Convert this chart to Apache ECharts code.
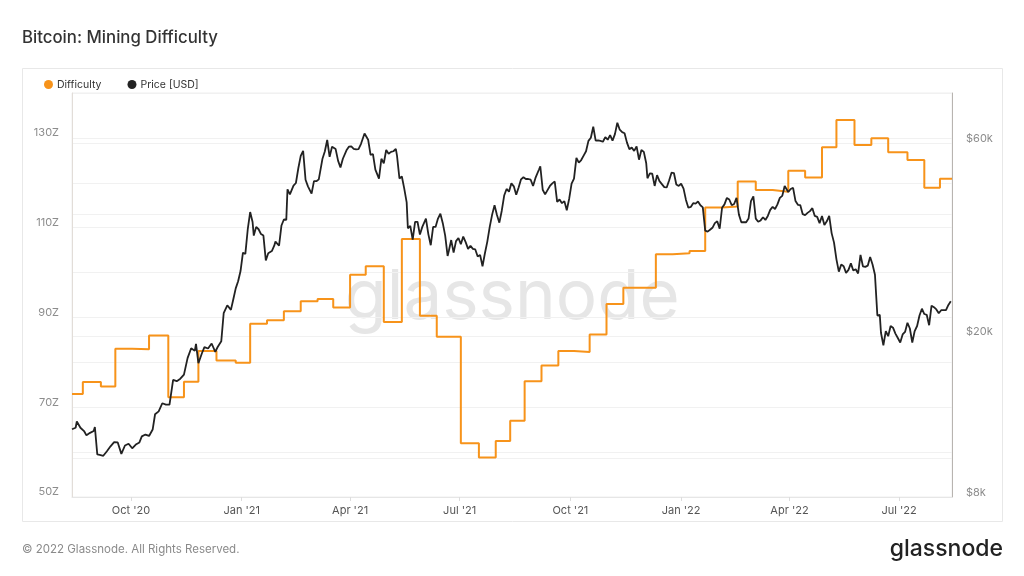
<!DOCTYPE html>
<html><head><meta charset="utf-8">
<script src="https://cdn.jsdelivr.net/npm/echarts@6/dist/echarts.min.js"></script>
<style>html,body{margin:0;padding:0;background:#fff}#c{width:1024px;height:576px}</style>
</head><body><div id="c"></div>
<script>
const xTickDates = ['2020-10-01','2021-01-01','2021-04-01','2021-07-01','2021-10-01','2022-01-01','2022-04-01','2022-07-01'];
const xTickLabels = ["Oct '20","Jan '21","Apr '21","Jul '21","Oct '21","Jan '22","Apr '22","Jul '22"];
const diffLabelValues = [50,70,90,110,130];
const priceLabelValues = [8000,20000,60000];
const priceGridValues = [10000,20000,40000,60000];

const difficulty = [
['2020-08-13',72.95],['2020-08-22',75.6],['2020-09-06',74.6],['2020-09-18',83.0],['2020-10-02',82.9],
['2020-10-16',86.0],['2020-11-01',72.2],['2020-11-14',75.7],['2020-11-26',82.5],['2020-12-11',80.4],
['2020-12-27',79.9],['2021-01-08',88.6],['2021-01-22',89.4],['2021-02-05',91.4],['2021-02-19',93.6],
['2021-03-05',94.1],['2021-03-18',92.2],['2021-04-01',99.5],['2021-04-14',101.4],['2021-04-29',89.0],
['2021-05-14',107.5],['2021-05-29',90.4],['2021-06-12',85.7],['2021-07-02',62.0],['2021-07-17',58.8],
['2021-07-31',62.5],['2021-08-12',67.0],['2021-08-24',75.8],['2021-09-07',79.3],['2021-09-21',82.5],
['2021-10-04',82.3],['2021-10-17',86.2],['2021-10-31',93.0],['2021-11-14',96.6],['2021-11-27',96.6],
['2021-12-11',104.1],['2021-12-25',104.3],['2022-01-08',104.8],['2022-01-21',114.5],['2022-02-04',114.7],
['2022-02-17',120.3],['2022-03-04',118.4],['2022-03-18',118.0],['2022-03-31',122.7],['2022-04-14',121.2],
['2022-04-28',127.9],['2022-05-10',134.0],['2022-05-25',128.4],['2022-06-08',129.9],['2022-06-22',126.8],
['2022-07-08',125.1],['2022-07-22',118.9],['2022-08-04',120.9],['2022-08-14',120.9]
];

const price = [
['2020-08-13',11770],['2020-08-16',11870],['2020-08-17',12300],['2020-08-20',11870],['2020-08-23',11650],
['2020-08-25',11370],['2020-08-28',11530],['2020-08-31',11650],['2020-09-01',11920],['2020-09-03',10200],
['2020-09-05',10170],['2020-09-08',10120],['2020-09-11',10380],['2020-09-14',10680],['2020-09-17',10940],
['2020-09-20',10920],['2020-09-23',10230],['2020-09-26',10730],['2020-09-29',10840],['2020-10-02',10560],
['2020-10-05',10790],['2020-10-08',10920],['2020-10-10',11300],['2020-10-13',11420],['2020-10-16',11330],
['2020-10-19',11750],['2020-10-21',12820],['2020-10-24',13030],['2020-10-27',13650],['2020-10-30',13550],
['2020-11-02',13550],['2020-11-05',15590],['2020-11-08',15480],['2020-11-11',15700],['2020-11-14',16070],
['2020-11-17',17650],['2020-11-20',18680],['2020-11-23',18400],['2020-11-24',19150],['2020-11-26',17150],
['2020-11-29',18180],['2020-12-01',18800],['2020-12-04',18650],['2020-12-07',19190],['2020-12-10',18300],
['2020-12-12',18810],['2020-12-15',19430],['2020-12-17',22800],['2020-12-20',23860],['2020-12-23',23240],
['2020-12-25',24700],['2020-12-27',26270],['2020-12-29',27360],['2020-12-31',29000],
['2021-01-02',32200],['2021-01-04',31970],['2021-01-06',36800],['2021-01-08',40600],['2021-01-10',38350],
['2021-01-11',35500],['2021-01-13',37300],['2021-01-15',36800],['2021-01-17',35800],['2021-01-19',35500],
['2021-01-21',30800],['2021-01-23',32100],['2021-01-26',32500],['2021-01-28',33500],['2021-01-29',34300],
['2021-02-01',33500],['2021-02-03',37600],['2021-02-05',38900],['2021-02-07',38800],['2021-02-08',46200],
['2021-02-10',44900],['2021-02-13',47200],['2021-02-15',47900],['2021-02-17',52100],['2021-02-19',55900],
['2021-02-21',57500],['2021-02-23',48800],['2021-02-25',47000],['2021-02-28',45100],['2021-03-02',48400],
['2021-03-04',48400],['2021-03-06',48900],['2021-03-09',54900],['2021-03-11',57300],['2021-03-13',61200],
['2021-03-15',55600],['2021-03-17',58900],['2021-03-20',58100],['2021-03-22',54400],['2021-03-24',52300],
['2021-03-26',55000],['2021-03-29',57700],['2021-03-31',58900],['2021-04-02',59000],['2021-04-04',58200],
['2021-04-06',58000],['2021-04-08',58100],['2021-04-10',59800],['2021-04-13',63500],['2021-04-14',63100],
['2021-04-16',61300],['2021-04-18',56200],['2021-04-20',56500],['2021-04-22',51700],['2021-04-25',49100],
['2021-04-27',55000],['2021-04-29',53600],['2021-05-01',57800],['2021-05-03',56600],['2021-05-05',57200],
['2021-05-07',57400],['2021-05-09',58200],['2021-05-10',55900],['2021-05-12',49150],['2021-05-14',49700],
['2021-05-16',46400],['2021-05-18',42900],['2021-05-19',37000],['2021-05-21',37500],['2021-05-23',34700],
['2021-05-25',38400],['2021-05-27',38400],['2021-05-29',35700],['2021-05-31',37300],['2021-06-03',39100],
['2021-06-05',35800],['2021-06-07',33600],['2021-06-09',37300],['2021-06-11',37300],['2021-06-13',39100],
['2021-06-15',40200],['2021-06-17',38100],['2021-06-19',35500],['2021-06-21',31600],['2021-06-22',32500],
['2021-06-24',34600],['2021-06-26',32200],['2021-06-28',34400],['2021-06-30',35000],['2021-07-02',33800],
['2021-07-04',35300],['2021-07-06',34200],['2021-07-08',32900],['2021-07-10',33500],['2021-07-12',32900],
['2021-07-14',32800],['2021-07-16',31500],['2021-07-18',31800],['2021-07-20',29800],['2021-07-22',32100],
['2021-07-24',34300],['2021-07-26',37300],['2021-07-28',40000],['2021-07-30',42200],['2021-08-01',39900],
['2021-08-03',38200],['2021-08-05',40900],['2021-08-07',44600],['2021-08-09',46300],['2021-08-11',45600],
['2021-08-13',47800],['2021-08-15',47000],['2021-08-17',44800],['2021-08-19',46700],['2021-08-21',48900],
['2021-08-23',49500],['2021-08-25',49000],['2021-08-27',49000],['2021-08-29',48800],['2021-08-31',47100],
['2021-09-02',49300],['2021-09-05',51800],['2021-09-06',52700],['2021-09-08',46100],['2021-09-10',44900],
['2021-09-12',46000],['2021-09-14',47100],['2021-09-16',47800],['2021-09-18',48300],['2021-09-20',43000],
['2021-09-22',43600],['2021-09-24',42700],['2021-09-26',43200],['2021-09-28',41000],['2021-09-30',43800],
['2021-10-02',47700],['2021-10-04',49100],['2021-10-06',55300],['2021-10-08',53800],['2021-10-10',54600],
['2021-10-12',56000],['2021-10-14',57400],['2021-10-16',60900],['2021-10-18',62000],['2021-10-20',66000],
['2021-10-22',61000],['2021-10-24',61100],['2021-10-26',60900],['2021-10-28',60600],['2021-10-30',62200],
['2021-11-01',61300],['2021-11-03',62900],['2021-11-05',61000],['2021-11-07',63300],['2021-11-09',67500],
['2021-11-11',64900],['2021-11-13',64000],['2021-11-15',63600],['2021-11-17',60300],['2021-11-19',58100],
['2021-11-21',58600],['2021-11-23',57500],['2021-11-25',59000],['2021-11-27',54700],['2021-11-29',57800],
['2021-12-01',57200],['2021-12-03',53600],['2021-12-04',49200],['2021-12-06',50600],['2021-12-08',50500],
['2021-12-10',47100],['2021-12-12',50100],['2021-12-14',48400],['2021-12-16',47600],['2021-12-18',46800],
['2021-12-20',46700],['2021-12-22',48600],['2021-12-24',50800],['2021-12-26',50700],['2021-12-28',47500],
['2021-12-30',47100],
['2022-01-01',47700],['2022-01-03',46400],['2022-01-05',43500],['2022-01-07',41600],['2022-01-09',41800],
['2022-01-11',42700],['2022-01-13',42600],['2022-01-15',43100],['2022-01-17',42200],['2022-01-19',41700],
['2022-01-21',36500],['2022-01-23',36300],['2022-01-25',36700],['2022-01-27',37100],['2022-01-29',38100],
['2022-01-31',38500],['2022-02-02',36900],['2022-02-04',41600],['2022-02-06',42400],['2022-02-08',44000],
['2022-02-10',43600],['2022-02-12',42200],['2022-02-14',42500],['2022-02-16',44000],['2022-02-18',40000],
['2022-02-20',38300],['2022-02-22',38300],['2022-02-24',38300],['2022-02-26',39100],['2022-02-28',43200],
['2022-03-02',44400],['2022-03-04',39100],['2022-03-06',38400],['2022-03-08',38700],['2022-03-10',39400],
['2022-03-12',38800],['2022-03-14',39700],['2022-03-16',41100],['2022-03-18',41800],['2022-03-20',41300],
['2022-03-22',42400],['2022-03-24',44000],['2022-03-26',44500],['2022-03-28',47100],['2022-03-29',47400],
['2022-03-31',45500],['2022-04-02',46300],['2022-04-04',46600],['2022-04-06',43200],['2022-04-08',42300],
['2022-04-10',42200],['2022-04-12',40100],['2022-04-14',39900],['2022-04-16',40400],['2022-04-18',40800],
['2022-04-20',41500],['2022-04-22',39700],['2022-04-24',39500],['2022-04-26',38100],['2022-04-28',39700],
['2022-04-30',37700],['2022-05-02',38500],['2022-05-04',39700],['2022-05-06',36000],['2022-05-08',34100],
['2022-05-10',31000],['2022-05-12',28900],['2022-05-14',30100],['2022-05-16',29800],['2022-05-18',28700],
['2022-05-20',29200],['2022-05-22',30300],['2022-05-24',29100],['2022-05-26',29300],['2022-05-28',28600],
['2022-05-30',31800],['2022-06-01',29800],['2022-06-03',29700],['2022-06-05',29900],['2022-06-07',31400],
['2022-06-09',30100],['2022-06-11',28400],['2022-06-13',22500],['2022-06-15',22600],['2022-06-16',20400],
['2022-06-18',19000],['2022-06-20',20600],['2022-06-22',20000],['2022-06-24',21200],['2022-06-26',21000],
['2022-06-28',20300],['2022-06-30',19800],['2022-07-02',19300],['2022-07-04',20200],['2022-07-06',20500],
['2022-07-08',21600],['2022-07-10',20900],['2022-07-12',19300],['2022-07-14',20600],['2022-07-16',21200],
['2022-07-18',22500],['2022-07-20',23400],['2022-07-22',22700],['2022-07-24',22600],['2022-07-26',21300],
['2022-07-28',23800],['2022-07-30',23600],['2022-08-01',23300],['2022-08-03',22800],['2022-08-05',23200],
['2022-08-07',23200],['2022-08-09',23200],['2022-08-11',23900],['2022-08-13',24400]
];

const ts = d => Date.parse(d);
const xMin = ts('2020-08-13'), xMax = ts('2022-08-14');
const tickMap = {};
xTickDates.forEach((d, i) => { tickMap[ts(d)] = xTickLabels[i]; });

const FONT = 'Inter, "Noto Sans", sans-serif';
const chart = echarts.init(document.getElementById('c'), null, {renderer: 'canvas'});
chart.setOption({
  animation: false,
  backgroundColor: '#ffffff',
  title: {
    text: 'Bitcoin: Mining Difficulty', left: 22, top: 29, padding: 0,
    textStyle: {fontFamily: FONT, fontSize: 16.8, fontWeight: 500, color: '#333333'}
  },
  legend: {
    data: ['Difficulty', 'Price [USD]'], left: 44, top: 79, padding: 0, icon: 'circle',
    itemWidth: 9, itemHeight: 9, itemGap: 26,
    textStyle: {fontFamily: FONT, fontSize: 10.5, color: '#333333', padding: [0,0,0,-1]}
  },
  graphic: [
    {type: 'rect', silent: true, z: -10,
      shape: {x: 22.5, y: 68.5, width: 980, height: 453}, style: {fill: 'none', stroke: '#e8e8e8', lineWidth: 1}},
    {type: 'text', x: 512, y: 298, z: 0, silent: true,
      style: {text: 'glassnode', font: '400 69px ' + FONT, fill: '#e6e6e6', align: 'center', verticalAlign: 'middle'}},
    {type: 'text', x: 22, y: 550, silent: true,
      style: {text: '\u00a9 2022 Glassnode. All Rights Reserved.', font: '11.5px ' + FONT, fill: '#8a8a8a', align: 'left', verticalAlign: 'middle'}},
    {type: 'text', x: 1003, y: 549.5, silent: true,
      style: {text: 'glassnode', font: '500 23px ' + FONT, fill: '#222222', align: 'right', verticalAlign: 'middle'}}
  ],
  grid: {left: 72, right: 72, top: 93, bottom: 79, show: true, borderColor: '#efefef', borderWidth: 1},
  xAxis: {
    type: 'value', min: xMin, max: xMax,
    axisLine: {show: true, lineStyle: {color: '#e6e6e6'}},
    axisTick: {show: true, length: 4, lineStyle: {color: '#dddddd'}, customValues: xTickDates.map(ts)},
    splitLine: {show: false},
    axisLabel: {
      customValues: xTickDates.map(ts), margin: 8,
      fontFamily: FONT, fontSize: 11, color: '#555555',
      formatter: v => tickMap[v] || ''
    }
  },
  yAxis: [
    {
      type: 'value', min: 50, max: 140, interval: 10, position: 'left',
      axisLine: {show: true, lineStyle: {color: '#e2ddd8'}},
      axisTick: {show: false},
      splitLine: {show: true, lineStyle: {color: '#f1f1f1'}},
      axisLabel: {
        margin: 13, fontFamily: FONT, fontSize: 11, color: '#8c8c8c', verticalAlign: 'bottom', lineHeight: 10,
        formatter: v => diffLabelValues.indexOf(v) >= 0 ? v + 'Z' : ''
      }
    },
    {
      type: 'log', logBase: 10, min: 8000, max: 80000, position: 'right',
      axisLine: {show: true, lineStyle: {color: '#b8b4b0'}},
      axisTick: {show: false, customValues: priceGridValues},
      splitLine: {show: true, lineStyle: {color: '#f1f1f1'}},
      axisLabel: {
        customValues: priceLabelValues, margin: 14, fontFamily: FONT, fontSize: 11, color: '#8c8c8c', verticalAlign: 'bottom', lineHeight: 9,
        formatter: v => '$' + Math.round(v / 1000) + 'k'
      }
    }
  ],
  series: [
    {
      name: 'Difficulty', type: 'line', yAxisIndex: 0, step: 'end', showSymbol: false, symbol: 'none',
      color: '#f7931a', lineStyle: {width: 2, color: '#f7931a'}, z: 3,
      data: difficulty.map(d => [ts(d[0]), d[1]])
    },
    {
      name: 'Price [USD]', type: 'line', yAxisIndex: 1, showSymbol: false, symbol: 'none',
      color: '#222222', lineStyle: {width: 1.8, color: '#222222'}, z: 4,
      data: price.map(d => [ts(d[0]), d[1]])
    }
  ]
});
</script>
</body></html>
